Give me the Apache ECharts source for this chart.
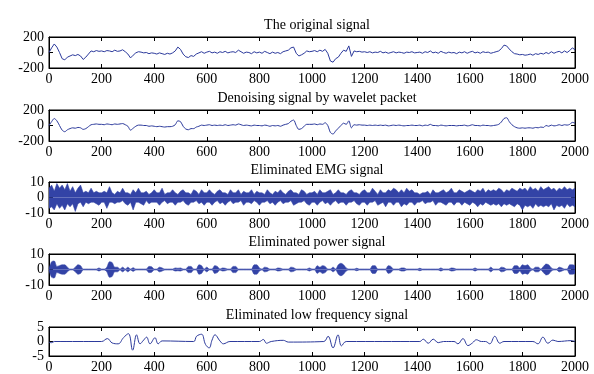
<!DOCTYPE html>
<html>
<head>
<meta charset="utf-8">
<script src="https://cdn.jsdelivr.net/npm/echarts@6/dist/echarts.min.js"></script>
<style>
  html, body { margin: 0; padding: 0; background: #fff; }
  #chart { width: 594px; height: 374px; }
</style>
</head>
<body>
<div id="chart"></div>
<script>
// panel titles
var titles = [
  "The original signal",
  "Denoising signal by wavelet packet",
  "Eliminated EMG signal",
  "Eliminated power signal",
  "Eliminated low frequency signal"
];

// y limits of each panel
var yLimits = [200, 200, 10, 10, 5];

// original ECG, one value every 10 samples (0..2000)
var originalSignal = [
  0,
  60, 110, 70, 0, -80, -95, -60, -45, -30, -40,
  -25, -45, -90, -60, -20, 20, 10, 25, 15, 20,
  10, 25, 20, 10, 30, 15, 20, 35, 10, -20,
  -70, -35, -5, 10, 5, -5, 0, -15, -5, -10,
  -20, -5, -15, -25, -10, -20, -5, 20, 70, 40,
  -20, -55, -65, -40, -50, -20, -5, 10, -10, 5,
  15, -5, 5, -10, 10, 0, 15, -5, 5, 10,
  0, 30, 10, -10, 5, 0, -15, 10, -5, 5,
  -10, 15, 0, -15, 5, -10, 0, -15, 10, 20,
  30, 60, 70, -10, -45, -30, -10, 20, 10, 15,
  25, 10, 30, 15, 40, -10, -110, -125, -80, -60,
  -10, 30, 15, 85, -50, 20, 10, 15, 5, 10,
  0, 10, -5, 5, 0, 15, -5, 5, -10, 0,
  10, -5, 5, 0, -10, 5, 0, 10, -5, 0,
  5, -10, 10, 0, 20, -5, 5, -10, 15, 0,
  -10, 5, -5, 0, -15, 5, -5, 10, -10, 5,
  15, -5, 5, -10, 10, 0, 5, -10, 0, 10,
  20, 50, 95, 85, 45, 10, -15, -20, -30, -25,
  -35, -30, -20, -35, -15, -25, -10, -20, 0, -15,
  10, -10, 5, 15, -5, 20, 0, 25, 60, 35
];

// wavelet packet denoised signal, every 10 samples
var denoisedSignal = [
  0,
  50, 90, 60, 0, -60, -80, -55, -40, -30, -35,
  -25, -30, -50, -40, -15, 10, 15, 20, 15, 15,
  10, 20, 15, 10, 20, 15, 20, 25, 10, -10,
  -60, -35, -10, 5, 5, 0, 0, -10, -5, -10,
  -15, -10, -15, -20, -15, -15, -10, 10, 60, 50,
  -10, -45, -55, -40, -40, -20, -10, 5, 0, 5,
  10, 0, 5, 0, 5, 0, 10, 0, 5, 10,
  5, 20, 10, 0, 5, 0, -5, 5, 0, 0,
  -5, 5, 0, -10, 0, -5, 0, -10, 5, 15,
  25, 55, 70, 0, -50, -40, -10, 15, 15, 15,
  20, 10, 20, 15, 35, 0, -90, -110, -70, -35,
  0, 30, 15, 60, -30, 10, 5, 10, 5, 5,
  0, 5, 0, 5, 0, 5, 0, 5, -5, 0,
  5, 0, 5, 0, -5, 0, 0, 5, 0, 0,
  5, -5, 5, 0, 15, 0, 0, -5, 5, 0,
  -5, 0, 0, 0, -5, 0, 0, 5, -5, 0,
  10, 0, 0, -5, 5, 0, 0, -5, 0, 5,
  15, 45, 90, 100, 50, 10, -15, -30, -35, -30,
  -35, -30, -30, -35, -25, -30, -20, -25, 0, -10,
  5, -5, 0, 10, 0, 10, 5, 15, 40, 30
];

// EMG noise band: upper and lower envelope, every 10 samples
var emgUpper = [
  6,
  8, 4, 9, 6, 8, 5, 9, 4, 7, 3,
  6, 8, 3, 4, 3, 6, 3, 4, 3, 3,
  4, 3, 7, 3, 2, 4, 3, 6, 3, 3,
  2, 5, 3, 6, 3, 3, 4, 2, 3, 5,
  3, 3, 6, 2, 3, 3, 5, 3, 2, 4,
  5, 3, 3, 2, 5, 4, 2, 5, 3, 3,
  5, 3, 2, 4, 5, 3, 3, 2, 5, 3,
  3, 5, 2, 4, 3, 3, 5, 2, 4, 3,
  3, 2, 5, 3, 2, 4, 3, 5, 3, 2,
  4, 5, 3, 3, 2, 5, 4, 2, 3, 3,
  4, 2, 5, 3, 3, 4, 5, 2, 3, 5,
  3, 3, 2, 4, 5, 3, 3, 2, 4, 5,
  3, 3, 6, 4, 2, 5, 3, 3, 5, 4,
  6, 5, 3, 5, 3, 6, 4, 5, 3, 3,
  2, 3, 3, 4, 2, 5, 3, 3, 4, 5,
  3, 4, 6, 3, 3, 5, 4, 3, 4, 5,
  4, 3, 5, 4, 6, 3, 5, 4, 5, 4,
  6, 5, 3, 5, 4, 6, 5, 4, 6, 5,
  6, 4, 7, 5, 6, 4, 7, 5, 6, 7,
  5, 6, 4, 6, 5, 7, 5, 6, 5, 6
];
var emgLower = [
  -7,
  -6, -8, -4, -7, -5, -8, -4, -6, -4, -9,
  -4, -3, -6, -3, -4, -3, -3, -4, -5, -3,
  -3, -7, -3, -3, -4, -3, -3, -2, -4, -5,
  -3, -8, -3, -3, -4, -5, -2, -4, -3, -3,
  -3, -5, -3, -2, -4, -3, -3, -5, -3, -3,
  -2, -4, -5, -3, -3, -2, -4, -3, -5, -3,
  -3, -5, -3, -2, -4, -3, -5, -3, -2, -4,
  -3, -3, -2, -5, -3, -3, -4, -2, -3, -5,
  -3, -3, -2, -4, -3, -5, -3, -2, -4, -3,
  -3, -2, -5, -4, -3, -3, -2, -4, -5, -3,
  -3, -5, -3, -2, -4, -3, -5, -3, -2, -4,
  -3, -3, -5, -3, -3, -2, -4, -5, -3, -3,
  -5, -3, -3, -2, -5, -4, -3, -6, -3, -3,
  -5, -3, -3, -6, -4, -5, -3, -3, -5, -3,
  -3, -2, -4, -3, -3, -2, -5, -3, -3, -4,
  -5, -3, -3, -5, -3, -3, -5, -3, -4, -5,
  -3, -4, -6, -4, -5, -3, -4, -5, -4, -5,
  -4, -6, -4, -5, -4, -5, -6, -4, -5, -8,
  -5, -6, -5, -7, -4, -6, -5, -6, -5, -6,
  -4, -8, -5, -6, -5, -7, -4, -6, -5, -6
];

// power-line interference: burst amplitude, every 10 samples
var powerAmplitude = [
  0.3,
  5, 5.5, 2, 2.5, 3, 3, 1.5, 0.3, 0.3, 1.5,
  3, 2.5, 0.3, 0.3, 0.3, 0.3, 0.3, 0.3, 1, 0.3,
  0.3, 1.5, 5, 4.5, 1.5, 1.5, 0.3, 1.5, 0.3, 1.5,
  0.3, 1.2, 0.3, 0.3, 0.3, 0.3, 0.3, 2, 1.8, 0.3,
  0.3, 1.5, 1, 0.3, 0.3, 0.3, 0.3, 1, 0.8, 1,
  0.3, 0.3, 2, 2, 0.3, 0.3, 3, 2.5, 0.3, 1.5,
  0.3, 0.3, 2.5, 2, 0.3, 1, 0.8, 0.3, 0.3, 2,
  2, 0.3, 0.3, 0.3, 0.3, 0.3, 0.3, 3, 3, 1,
  0.3, 1.5, 1.2, 0.3, 0.3, 0.3, 1, 0.8, 0.3, 0.3,
  0.3, 1.5, 1.2, 0.3, 0.3, 0.3, 0.3, 0.3, 1, 0.3,
  0.3, 2.5, 1.5, 2.5, 2, 0.3, 0.3, 1.5, 0.3, 3,
  4, 3, 1, 0.3, 0.3, 0.3, 0.8, 0.3, 0.3, 0.3,
  0.3, 0.3, 2.5, 2.5, 0.3, 0.3, 0.3, 0.3, 2.5, 2,
  0.3, 0.3, 0.3, 1, 1, 0.3, 0.3, 0.3, 0.3, 0.3,
  0.8, 0.3, 0.3, 0.3, 0.3, 0.3, 0.3, 0.3, 1, 0.3,
  0.3, 0.3, 1, 0.8, 0.3, 0.3, 0.3, 0.3, 0.3, 0.3,
  0.3, 1, 0.3, 0.3, 0.3, 0.3, 0.3, 1.5, 0.3, 0.3,
  0.3, 1.5, 1.2, 0.3, 0.3, 0.3, 2.5, 2.5, 1, 3,
  2.5, 3, 1, 0.3, 1.5, 1.5, 0.3, 2, 3.5, 3,
  1, 0.3, 0.3, 1.5, 1, 0.3, 0.3, 3, 3, 2.5
];

// baseline wander, [sample, value] pairs read at turning points
var lowFreqSignal = [
  [0, -0.3], [10, -0.4], [20, 0], [200, 0], [222, 1], [240, -0.5], [263, -0.8],
  [283, 1.3], [302, 2.7], [318, -3], [333, 2.3], [346, -0.8], [360, 0.5],
  [371, 1.5], [384, -0.8], [403, 1.3], [415, -0.8], [430, 0.2], [550, 0],
  [561, 1.8], [580, 2.5], [595, -1], [609, -2.2], [620, 0.5], [631, 2.3],
  [650, 0.2], [663, -0.8], [688, 0], [800, 0], [815, 0.7], [827, -0.6],
  [845, 0], [891, 0.4], [910, -0.2], [1045, 0], [1061, 1.8], [1080, -2.2],
  [1099, 2.3], [1112, -1.5], [1130, 0], [1410, 0], [1423, 0.8], [1442, -0.6],
  [1461, 0.8], [1480, -0.4], [1500, 0], [1540, 0], [1555, -0.8], [1574, 1],
  [1593, -1.4], [1610, -0.5], [1625, 0.6], [1644, 0], [1660, 0], [1676, -0.8],
  [1695, 1.8], [1714, -0.6], [1730, 0], [1840, 0], [1859, -0.8], [1878, 1.5],
  [1897, -0.6], [1916, 0.5], [1935, 0], [1985, 0.3], [2000, 0]
];

var lineColor = "#2c3a9c";
var fontFamily = "'Liberation Serif', 'DejaVu Serif', serif";

var gridTops = [37, 110, 182, 254, 327];
var gridHeight = 31;

// every 10 samples -> [x, y]
function toPairs(arr) {
  return arr.map(function (v, i) { return [i * 10, v]; });
}

var chart = echarts.init(document.getElementById("chart"));

var grids = [], xAxes = [], yAxes = [], titleList = [], series = [];

for (var i = 0; i < 5; i++) {
  grids.push({
    left: 49, right: 19, top: gridTops[i], height: gridHeight,
    show: true, borderColor: "#000", borderWidth: 1, backgroundColor: "transparent"
  });
  titleList.push({
    text: titles[i], left: 312, textAlign: "center", top: gridTops[i] - 24,
    textStyle: { fontFamily: fontFamily, fontSize: 14, fontWeight: "normal", color: "#000" }
  });
  // bottom and top x axes (MATLAB box ticks)
  xAxes.push({
    type: "value", gridIndex: i, min: 0, max: 2000, interval: 200, position: "bottom",
    axisLine: { show: true, onZero: false, lineStyle: { color: "#000" } },
    axisTick: { show: true, inside: true, length: 4, lineStyle: { color: "#000" } },
    axisLabel: {
      margin: 4, color: "#000", fontFamily: fontFamily, fontSize: 14,
      formatter: function (v) { return String(v); }
    },
    splitLine: { show: false }
  });
  xAxes.push({
    type: "value", gridIndex: i, min: 0, max: 2000, interval: 200, position: "top",
    axisLine: { show: true, onZero: false, lineStyle: { color: "#000" } },
    axisTick: { show: true, inside: true, length: 4, lineStyle: { color: "#000" } },
    axisLabel: { show: false }, splitLine: { show: false }
  });
  var lim = yLimits[i];
  yAxes.push({
    type: "value", gridIndex: i, min: -lim, max: lim, interval: lim, position: "left",
    axisLine: { show: true, onZero: false, lineStyle: { color: "#000" } },
    axisTick: { show: true, inside: true, length: 4, lineStyle: { color: "#000" } },
    axisLabel: { margin: 5, color: "#000", fontFamily: fontFamily, fontSize: 14 },
    splitLine: { show: false }
  });
  yAxes.push({
    type: "value", gridIndex: i, min: -lim, max: lim, interval: lim, position: "right",
    axisLine: { show: true, onZero: false, lineStyle: { color: "#000" } },
    axisTick: { show: true, inside: true, length: 4, lineStyle: { color: "#000" } },
    axisLabel: { show: false }, splitLine: { show: false }
  });
}

function lineSeries(idx, data, extra) {
  var s = {
    type: "line", xAxisIndex: idx * 2, yAxisIndex: idx * 2, data: data,
    showSymbol: false, symbol: "none", animation: false,
    lineStyle: { color: lineColor, width: 1 }
  };
  for (var k in extra) s[k] = extra[k];
  return s;
}

var band = { color: "#3343a6", opacity: 1 };
var thin = { color: "#3343a6", width: 0.6 };

series.push(lineSeries(0, toPairs(originalSignal)));
series.push(lineSeries(1, toPairs(denoisedSignal), { smooth: 0.3 }));
series.push(lineSeries(2, toPairs(emgUpper), { areaStyle: band, lineStyle: thin }));
series.push(lineSeries(2, toPairs(emgLower), { areaStyle: band, lineStyle: thin }));
series.push(lineSeries(3, toPairs(powerAmplitude), { areaStyle: band, lineStyle: thin, smooth: 0.3 }));
series.push(lineSeries(3, toPairs(powerAmplitude.map(function (v) { return -v; })), { areaStyle: band, lineStyle: thin, smooth: 0.3 }));
series.push(lineSeries(4, lowFreqSignal, { smooth: 0.4 }));

chart.setOption({
  animation: false,
  backgroundColor: "#fff",
  title: titleList,
  grid: grids,
  xAxis: xAxes,
  yAxis: yAxes,
  series: series
});
</script>
</body>
</html>
